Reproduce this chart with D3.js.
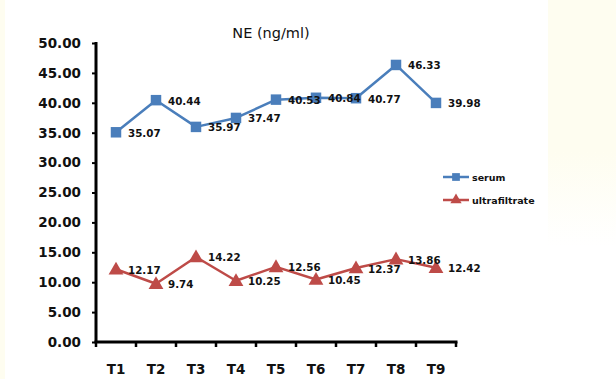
<!DOCTYPE html>
<html>
<head>
<meta charset="utf-8">
<script src="https://cdn.jsdelivr.net/npm/d3@7"></script>
<style>
  html, body { margin: 0; padding: 0; background: #fff; }
  svg { display: block; }
</style>
</head>
<body>
<svg id="chart" width="616" height="379"></svg>
<script>
// NE concentration (ng/ml) across time points
const timePoints = ["T1", "T2", "T3", "T4", "T5", "T6", "T7", "T8", "T9"];
const serum = [35.07, 40.44, 35.97, 37.47, 40.53, 40.84, 40.77, 46.33, 39.98];
const ultrafiltrate = [12.17, 9.74, 14.22, 10.25, 12.56, 10.45, 12.37, 13.86, 12.42];
const yTicks = [0, 5, 10, 15, 20, 25, 30, 35, 40, 45, 50];
const seriesNames = ["serum", "ultrafiltrate"];

const svg = d3.select("#chart");
const W = 616, H = 379;

// pale page tint at the edges
const defs = svg.append("defs");
const grad = defs.append("linearGradient").attr("id", "tint")
  .attr("x1", 0).attr("y1", 0).attr("x2", 0).attr("y2", 1);
grad.append("stop").attr("offset", "0%").attr("stop-color", "#fefdf0");
grad.append("stop").attr("offset", "40%").attr("stop-color", "#fefdf0");
grad.append("stop").attr("offset", "65%").attr("stop-color", "#ffffff");
svg.append("rect").attr("x", 0).attr("y", 0).attr("width", 5).attr("height", H).attr("fill", "#fefdf0");
svg.append("rect").attr("x", 548).attr("y", 0).attr("width", W - 548).attr("height", H).attr("fill", "url(#tint)");

const x = d3.scaleBand().domain(timePoints).range([96, 456]);
const y = d3.scaleLinear().domain([0, 50]).range([342, 43]);

const font = "'DejaVu Sans', Verdana, sans-serif";

// title
svg.append("text")
  .attr("x", 271).attr("y", 38)
  .attr("text-anchor", "middle")
  .attr("font-family", font).attr("font-size", 14.5)
  .attr("fill", "#111")
  .text("NE (ng/ml)");

// y axis
const yAxis = svg.append("g").attr("transform", "translate(96,0)")
  .call(d3.axisLeft(y).tickValues(yTicks).tickFormat(d3.format(".2f")).tickSize(4).tickPadding(11));
yAxis.select(".domain").attr("stroke", "#000").attr("stroke-width", 3)
  .attr("d", `M0,${y(50) - 1}V${y(0)}`);
yAxis.selectAll(".tick line").attr("stroke", "#000").attr("stroke-width", 2);
yAxis.selectAll(".tick text")
  .attr("font-family", font).attr("font-size", 13.5).attr("font-weight", "bold").attr("fill", "#111");

// x axis with ticks on category boundaries
const xAxis = svg.append("g").attr("transform", "translate(0,342)")
  .call(d3.axisBottom(x).tickSize(0).tickPadding(22));
xAxis.select(".domain").attr("stroke", "#000").attr("stroke-width", 3)
  .attr("d", `M94.5,0H457.5`);
xAxis.selectAll(".tick text")
  .attr("font-family", font).attr("font-size", 13.5).attr("font-weight", "bold").attr("fill", "#111");
const bounds = timePoints.map(t => x(t)).concat([x.range()[1]]);
xAxis.selectAll(".bound").data(bounds).enter().append("line")
  .attr("x1", d => d).attr("x2", d => d)
  .attr("y1", 0).attr("y2", 5)
  .attr("stroke", "#000").attr("stroke-width", 2.5);

const cx = t => x(t) + x.bandwidth() / 2;
const blue = "#4a7ebb", red = "#be4b48";

function drawSeries(values, color, shape) {
  const pts = timePoints.map((t, i) => ({ t, v: values[i] }));
  svg.append("path")
    .datum(pts)
    .attr("fill", "none").attr("stroke", color).attr("stroke-width", 2.5)
    .attr("stroke-linejoin", "round")
    .attr("d", d3.line().x(d => cx(d.t)).y(d => y(d.v)));
  const sym = d3.symbol().type(shape).size(shape === d3.symbolSquare ? 110 : 95);
  svg.append("g").selectAll("path").data(pts).enter().append("path")
    .attr("transform", d => `translate(${cx(d.t)},${y(d.v) + (shape === d3.symbolTriangle ? 1 : 0)})`)
    .attr("d", sym)
    .attr("fill", color);
  svg.append("g").selectAll("text").data(pts).enter().append("text")
    .attr("x", d => cx(d.t) + 12)
    .attr("y", d => y(d.v) + 4.5)
    .attr("font-family", font).attr("font-size", 10.3).attr("font-weight", "bold")
    .attr("fill", "#111")
    .text(d => d.v.toFixed(2));
}

drawSeries(serum, blue, d3.symbolSquare);
drawSeries(ultrafiltrate, red, d3.symbolTriangle);

// legend
const legend = svg.append("g");
const legendItems = [
  { name: seriesNames[0], color: blue, shape: d3.symbolSquare, size: 60, y: 177 },
  { name: seriesNames[1], color: red, shape: d3.symbolTriangle, size: 55, y: 200 }
];
legendItems.forEach(it => {
  legend.append("line")
    .attr("x1", 443).attr("x2", 469).attr("y1", it.y).attr("y2", it.y)
    .attr("stroke", it.color).attr("stroke-width", 2.5);
  legend.append("path")
    .attr("transform", `translate(456,${it.y})`)
    .attr("d", d3.symbol().type(it.shape).size(it.size))
    .attr("fill", it.color);
  legend.append("text")
    .attr("x", 472).attr("y", it.y + 3.5)
    .attr("font-family", font).attr("font-size", 9.5).attr("font-weight", "bold")
    .attr("fill", "#111")
    .text(it.name);
});
</script>
</body>
</html>
